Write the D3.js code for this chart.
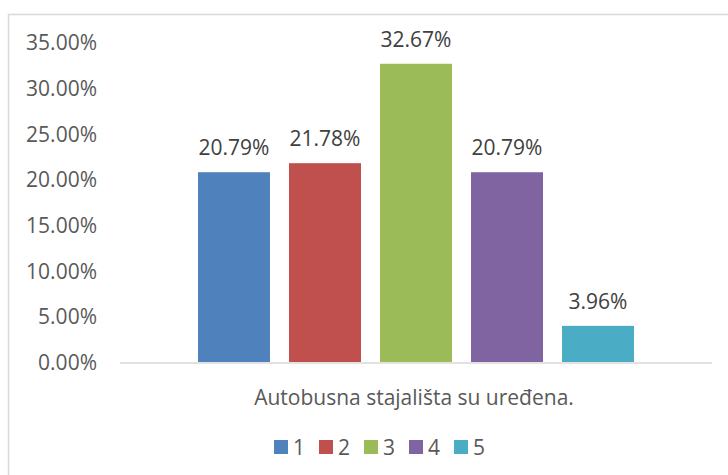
<!DOCTYPE html>
<html>
<head>
<meta charset="utf-8">
<script src="https://cdn.jsdelivr.net/npm/d3@7"></script>
<style>
  body { margin: 0; background: #fff; }
  text { font-family: "Open Sans", sans-serif; }
</style>
</head>
<body>
<div id="chart"></div>
<script>
var categories = ['1', '2', '3', '4', '5']
var values = [20.79, 21.78, 32.67, 20.79, 3.96]
var colors = ['#4F81BD', '#C0504D', '#9BBB59', '#8064A2', '#4BACC6']
var yTicks = [0, 5, 10, 15, 20, 25, 30, 35]
var groupLabel = 'Autobusna stajališta su uređena.'

var width = 728, height = 475
var fontSize = 21
var svg = d3.select('#chart').append('svg')
  .attr('width', width).attr('height', height)

// chart frame (right and bottom edges fall outside the picture)
svg.append('rect')
  .attr('x', 8.5).attr('y', 14.5)
  .attr('width', 740).attr('height', 480)
  .attr('fill', '#fff').attr('stroke', '#d9d9d9').attr('stroke-width', 1.5)

var plot = {left: 120, right: 712, top: 42.5, bottom: 362}

var y = d3.scaleLinear().domain([0, 35]).range([plot.bottom, plot.top])

var x = d3.scaleBand().domain(categories)
  .range([198, 634])
  .paddingInner(0.209).paddingOuter(0)

// y tick labels (no gridlines)
var yAxis = d3.axisLeft(y).tickValues(yTicks)
  .tickFormat(d => d.toFixed(2) + '%')
  .tickSize(0).tickPadding(0)

svg.append('g')
  .attr('transform', 'translate(97,0)')
  .call(yAxis)
  .call(g => g.select('.domain').remove())
  .selectAll('text')
  .attr('font-size', fontSize)
  .attr('fill', '#595959')
  .attr('dy', '0.35em')

svg.append('g').selectAll('rect')
  .data(values)
  .join('rect')
  .attr('x', (d, i) => x(categories[i]))
  .attr('width', x.bandwidth())
  .attr('y', d => y(d))
  .attr('height', d => y(0) - y(d))
  .attr('fill', (d, i) => colors[i])

svg.append('g').selectAll('text')
  .data(values)
  .join('text')
  .attr('x', (d, i) => x(categories[i]) + x.bandwidth() / 2)
  .attr('y', d => y(d) - 17)
  .attr('text-anchor', 'middle')
  .attr('font-size', fontSize)
  .attr('fill', '#404040')
  .text(d => d.toFixed(2) + '%')

// category axis line
svg.append('line')
  .attr('x1', plot.left).attr('x2', plot.right)
  .attr('y1', plot.bottom + 1).attr('y2', plot.bottom + 1)
  .attr('stroke', '#d9d9d9').attr('stroke-width', 1.5)

svg.append('text')
  .attr('x', 414)
  .attr('y', 405)
  .attr('text-anchor', 'middle')
  .attr('font-size', fontSize)
  .attr('fill', '#595959')
  .text(groupLabel)

// legend
var legend = svg.append('g').selectAll('g')
  .data(categories)
  .join('g')
  .attr('transform', (d, i) => 'translate(' + (274 + i * 45) + ',440)')

legend.append('rect')
  .attr('width', 14).attr('height', 14)
  .attr('fill', (d, i) => colors[i])

legend.append('text')
  .attr('x', 19).attr('y', 14.5)
  .attr('font-size', fontSize)
  .attr('fill', '#595959')
  .text(d => d)
</script>
</body>
</html>
